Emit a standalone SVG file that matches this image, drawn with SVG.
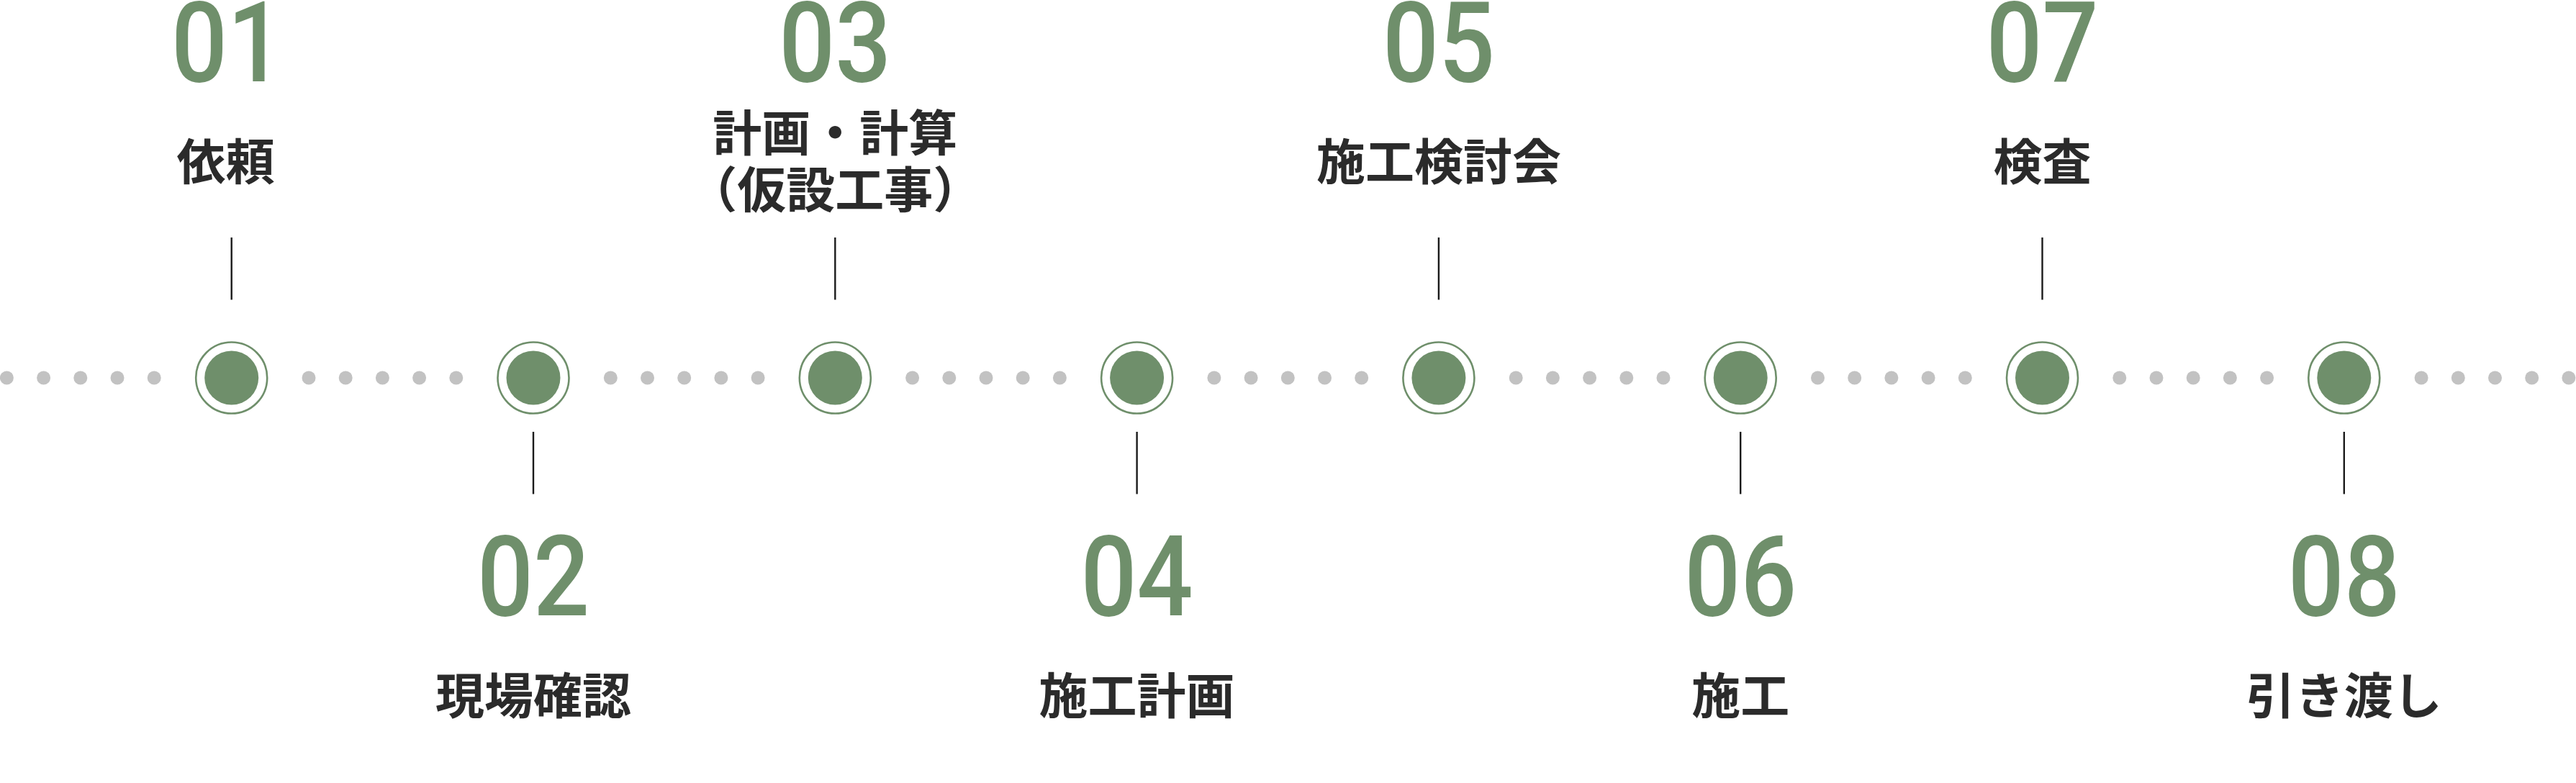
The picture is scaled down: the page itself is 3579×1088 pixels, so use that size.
<svg xmlns="http://www.w3.org/2000/svg" width="3579" height="1088" viewBox="0 0 3579 1088">
<style>
.num{font-family:Roboto,"Liberation Sans",sans-serif;font-weight:500;font-size:156px;fill:#6f8f6b;text-anchor:middle}
.lbl{font-family:"Noto Sans CJK JP","Noto Sans",sans-serif;font-weight:700;font-size:68px;fill:#2b2b2b;text-anchor:middle}
.ring{fill:#fff;stroke:#6f8f6b;stroke-width:2.6}
.core{fill:#6f8f6b}
.tick{stroke:#1a1a1a;stroke-width:2.4}
.dot{fill:#c2c2c2}
</style>
<rect width="3579" height="1088" fill="#fff"/>
<g id="connectors">
<circle class="dot" cx="9.4" cy="525" r="9.5"/><circle class="dot" cx="60.6" cy="525" r="9.5"/><circle class="dot" cx="111.8" cy="525" r="9.5"/><circle class="dot" cx="163" cy="525" r="9.5"/><circle class="dot" cx="214.2" cy="525" r="9.5"/>
<circle class="dot" cx="429" cy="525" r="9.5"/><circle class="dot" cx="480.2" cy="525" r="9.5"/><circle class="dot" cx="531.4" cy="525" r="9.5"/><circle class="dot" cx="582.6" cy="525" r="9.5"/><circle class="dot" cx="633.8" cy="525" r="9.5"/>
<circle class="dot" cx="848.3" cy="525" r="9.5"/><circle class="dot" cx="899.5" cy="525" r="9.5"/><circle class="dot" cx="950.7" cy="525" r="9.5"/><circle class="dot" cx="1001.9" cy="525" r="9.5"/><circle class="dot" cx="1053.1" cy="525" r="9.5"/>
<circle class="dot" cx="1267.6" cy="525" r="9.5"/><circle class="dot" cx="1318.8" cy="525" r="9.5"/><circle class="dot" cx="1370" cy="525" r="9.5"/><circle class="dot" cx="1421.2" cy="525" r="9.5"/><circle class="dot" cx="1472.4" cy="525" r="9.5"/>
<circle class="dot" cx="1686.9" cy="525" r="9.5"/><circle class="dot" cx="1738.1" cy="525" r="9.5"/><circle class="dot" cx="1789.3" cy="525" r="9.5"/><circle class="dot" cx="1840.5" cy="525" r="9.5"/><circle class="dot" cx="1891.7" cy="525" r="9.5"/>
<circle class="dot" cx="2106.2" cy="525" r="9.5"/><circle class="dot" cx="2157.4" cy="525" r="9.5"/><circle class="dot" cx="2208.6" cy="525" r="9.5"/><circle class="dot" cx="2259.8" cy="525" r="9.5"/><circle class="dot" cx="2311" cy="525" r="9.5"/>
<circle class="dot" cx="2525.5" cy="525" r="9.5"/><circle class="dot" cx="2576.7" cy="525" r="9.5"/><circle class="dot" cx="2627.9" cy="525" r="9.5"/><circle class="dot" cx="2679.1" cy="525" r="9.5"/><circle class="dot" cx="2730.3" cy="525" r="9.5"/>
<circle class="dot" cx="2944.8" cy="525" r="9.5"/><circle class="dot" cx="2996" cy="525" r="9.5"/><circle class="dot" cx="3047.2" cy="525" r="9.5"/><circle class="dot" cx="3098.4" cy="525" r="9.5"/><circle class="dot" cx="3149.6" cy="525" r="9.5"/>
<circle class="dot" cx="3364.1" cy="525" r="9.5"/><circle class="dot" cx="3415.3" cy="525" r="9.5"/><circle class="dot" cx="3466.5" cy="525" r="9.5"/><circle class="dot" cx="3517.7" cy="525" r="9.5"/><circle class="dot" cx="3568.9" cy="525" r="9.5"/>
</g>
<g id="step01">
<line class="tick" x1="321.7" y1="330" x2="321.7" y2="416.5"/>
<circle class="ring" cx="321.7" cy="525" r="49.5"/><circle class="core" cx="321.7" cy="525" r="37.5"/>
<text class="num" transform="translate(316 113) scale(0.88 1)">01</text>
<text class="lbl" x="313.5" y="250">依頼</text>
</g>
<g id="step02">
<line class="tick" x1="741" y1="600" x2="741" y2="686.5"/>
<circle class="ring" cx="741" cy="525" r="49.5"/><circle class="core" cx="741" cy="525" r="37.5"/>
<text class="num" transform="translate(741 855) scale(0.88 1)">02</text>
<text class="lbl" x="741" y="992">現場確認</text>
</g>
<g id="step03">
<line class="tick" x1="1160.3" y1="330" x2="1160.3" y2="416.5"/>
<circle class="ring" cx="1160.3" cy="525" r="49.5"/><circle class="core" cx="1160.3" cy="525" r="37.5"/>
<text class="num" transform="translate(1160.3 113) scale(0.88 1)">03</text>
<text class="lbl" x="1160.3" y="210">計画・計算<tspan x="1160.3" y="289">（仮設工事）</tspan></text>
</g>
<g id="step04">
<line class="tick" x1="1579.6" y1="600" x2="1579.6" y2="686.5"/>
<circle class="ring" cx="1579.6" cy="525" r="49.5"/><circle class="core" cx="1579.6" cy="525" r="37.5"/>
<text class="num" transform="translate(1579.6 855) scale(0.88 1)">04</text>
<text class="lbl" x="1579.6" y="992">施工計画</text>
</g>
<g id="step05">
<line class="tick" x1="1998.9" y1="330" x2="1998.9" y2="416.5"/>
<circle class="ring" cx="1998.9" cy="525" r="49.5"/><circle class="core" cx="1998.9" cy="525" r="37.5"/>
<text class="num" transform="translate(1998.9 113) scale(0.88 1)">05</text>
<text class="lbl" x="1998.9" y="250">施工検討会</text>
</g>
<g id="step06">
<line class="tick" x1="2418.2" y1="600" x2="2418.2" y2="686.5"/>
<circle class="ring" cx="2418.2" cy="525" r="49.5"/><circle class="core" cx="2418.2" cy="525" r="37.5"/>
<text class="num" transform="translate(2418.2 855) scale(0.88 1)">06</text>
<text class="lbl" x="2418.2" y="992">施工</text>
</g>
<g id="step07">
<line class="tick" x1="2837.5" y1="330" x2="2837.5" y2="416.5"/>
<circle class="ring" cx="2837.5" cy="525" r="49.5"/><circle class="core" cx="2837.5" cy="525" r="37.5"/>
<text class="num" transform="translate(2837.5 113) scale(0.88 1)">07</text>
<text class="lbl" x="2837.5" y="250">検査</text>
</g>
<g id="step08">
<line class="tick" x1="3256.8" y1="600" x2="3256.8" y2="686.5"/>
<circle class="ring" cx="3256.8" cy="525" r="49.5"/><circle class="core" cx="3256.8" cy="525" r="37.5"/>
<text class="num" transform="translate(3256.8 855) scale(0.88 1)">08</text>
<text class="lbl" x="3256.8" y="992">引き渡し</text>
</g>
</svg>
